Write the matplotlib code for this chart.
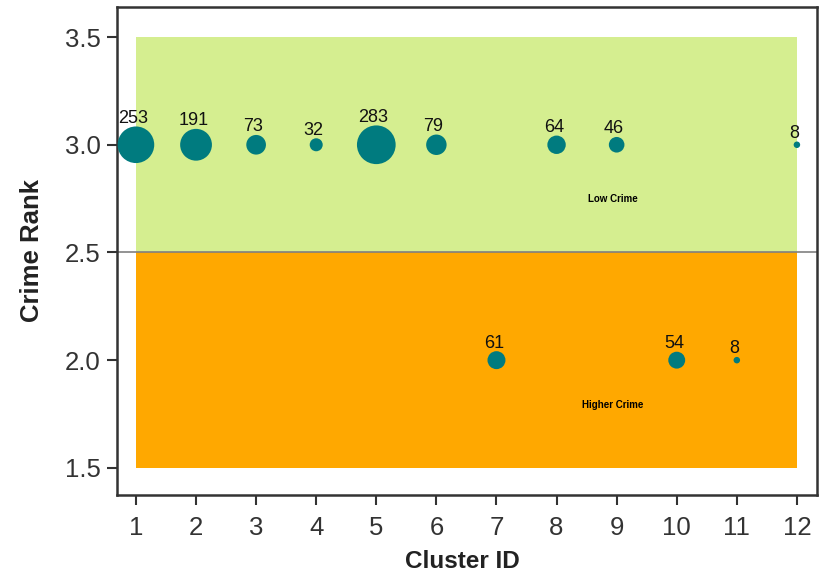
import matplotlib
matplotlib.use("Agg")
import matplotlib.pyplot as plt
import numpy as np

plt.rcParams['font.family'] = ['Liberation Sans', 'DejaVu Sans']

cluster_ids = [1, 2, 3, 4, 5, 6, 7, 8, 9, 10, 11, 12]
crime_rank = [3, 3, 3, 3, 3, 3, 2, 3, 3, 2, 2, 3]
counts = [253, 191, 73, 32, 283, 79, 61, 64, 46, 54, 8, 8]
x_ticks = list(range(1, 13))
y_ticks = [1.5, 2.0, 2.5, 3.0, 3.5]
bands = [(2.5, 3.5, '#d5ee90', 'Low Crime', 2.75), (1.5, 2.5, '#ffa800', 'Higher Crime', 1.79)]

fig = plt.figure(figsize=(8.26, 5.76), dpi=100)
ax = fig.add_axes([0.1416, 0.141, 0.8474, 0.847])

for lo, hi, col, lab, ly in bands:
    ax.fill_between([1, 12], lo, hi, color=col, zorder=1, linewidth=0)
    ax.text(8.93, ly, lab, fontsize=7, fontweight='bold', ha='center', va='center',
            color='black', zorder=3)

ax.axhline(2.5, color='#808080', linewidth=1.2, zorder=2)

k = 1.15  # bubble radius in px per sqrt(count)
sizes = [(2 * k * 0.72) ** 2 * c for c in counts]
ax.scatter(cluster_ids, crime_rank, s=sizes, color='#007b7f', zorder=4, linewidths=0)

for x, y, c in zip(cluster_ids, crime_rank, counts):
    r_px = k * np.sqrt(c)
    ax.annotate(str(c), (x, y), xytext=(-2, (r_px + 8) * 0.72), textcoords='offset points',
                ha='center', va='center', fontsize=13, color='#111111', zorder=5)

ax.set_xlim(0.684, 12.333)
ax.set_ylim(1.375, 3.64)
ax.set_xticks(x_ticks)
ax.set_yticks(y_ticks)
ax.set_yticklabels([f'{v:.1f}' for v in y_ticks])
ax.tick_params(axis='both', labelsize=18.5, direction='out', length=7.5, width=1.5,
               colors='#333333')
ax.tick_params(axis='x', pad=8)
ax.tick_params(axis='y', pad=4)
for s in ax.spines.values():
    s.set_linewidth(1.8)
    s.set_color('#333333')
ax.set_xlabel('Cluster ID', fontsize=17.5, fontweight='bold', color='#222222')
ax.set_ylabel('Crime Rank', fontsize=18.5, fontweight='bold', color='#222222')
ax.xaxis.label.set_verticalalignment('center')
ax.yaxis.label.set_verticalalignment('center')
ax.xaxis.set_label_coords(0.494, (495 - 562) / 488)
ax.yaxis.set_label_coords((32 - 117) / 700, (495 - 251) / 488)

fig.savefig('out.png', dpi=100)
